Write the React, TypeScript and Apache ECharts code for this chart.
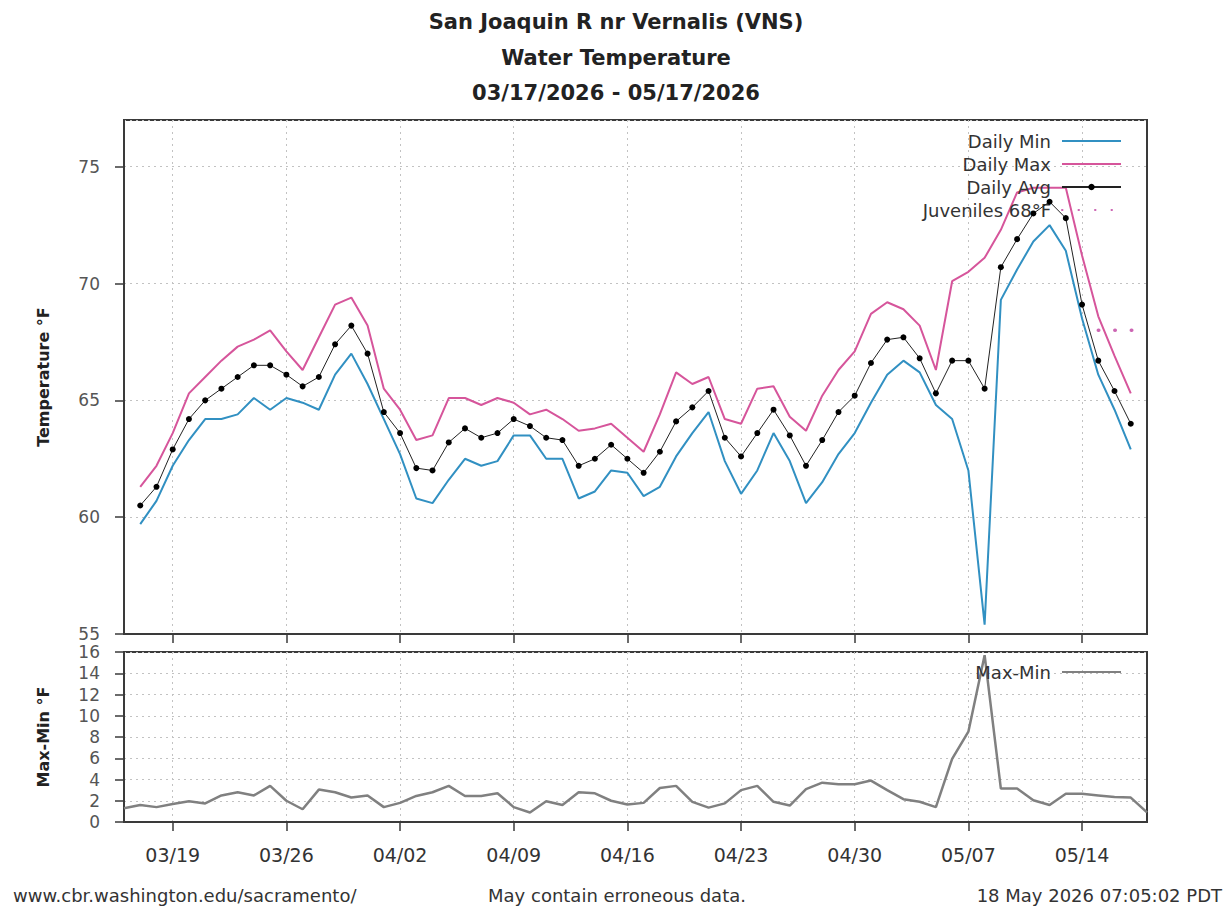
import React, { useEffect, useRef } from "react";
import * as echarts from "echarts";

// ---- data ----
const dates = [
  "03/17","03/18","03/19","03/20","03/21","03/22","03/23","03/24","03/25","03/26",
  "03/27","03/28","03/29","03/30","03/31","04/01","04/02","04/03","04/04","04/05",
  "04/06","04/07","04/08","04/09","04/10","04/11","04/12","04/13","04/14","04/15",
  "04/16","04/17","04/18","04/19","04/20","04/21","04/22","04/23","04/24","04/25",
  "04/26","04/27","04/28","04/29","04/30","05/01","05/02","05/03","05/04","05/05",
  "05/06","05/07","05/08","05/09","05/10","05/11","05/12","05/13","05/14","05/15",
  "05/16","05/17",
];
const dailyMin = [
  59.7, 60.7, 62.2, 63.3, 64.2, 64.2, 64.4, 65.1, 64.6, 65.1,
  64.9, 64.6, 66.1, 67.0, 65.7, 64.2, 62.7, 60.8, 60.6, 61.6,
  62.5, 62.2, 62.4, 63.5, 63.5, 62.5, 62.5, 60.8, 61.1, 62.0,
  61.9, 60.9, 61.3, 62.6, 63.6, 64.5, 62.4, 61.0, 62.0, 63.6,
  62.4, 60.6, 61.5, 62.7, 63.6, 64.9, 66.1, 66.7, 66.2, 64.8,
  64.2, 62.0, 55.4, 69.3, 70.6, 71.8, 72.5, 71.4, 68.5, 66.1,
  64.6, 62.9,
];
const dailyMax = [
  61.3, 62.2, 63.6, 65.3, 66.0, 66.7, 67.3, 67.6, 68.0, 67.1,
  66.3, 67.7, 69.1, 69.4, 68.2, 65.5, 64.6, 63.3, 63.5, 65.1,
  65.1, 64.8, 65.1, 64.9, 64.4, 64.6, 64.2, 63.7, 63.8, 64.0,
  63.4, 62.8, 64.4, 66.2, 65.7, 66.0, 64.2, 64.0, 65.5, 65.6,
  64.3, 63.7, 65.2, 66.3, 67.1, 68.7, 69.2, 68.9, 68.2, 66.3,
  70.1, 70.5, 71.1, 72.3, 73.9, 74.1, 74.1, 74.1, 71.2, 68.6,
  66.9, 65.3,
];
const dailyAvg = [
  60.5, 61.3, 62.9, 64.2, 65.0, 65.5, 66.0, 66.5, 66.5, 66.1,
  65.6, 66.0, 67.4, 68.2, 67.0, 64.5, 63.6, 62.1, 62.0, 63.2,
  63.8, 63.4, 63.6, 64.2, 63.9, 63.4, 63.3, 62.2, 62.5, 63.1,
  62.5, 61.9, 62.8, 64.1, 64.7, 65.4, 63.4, 62.6, 63.6, 64.6,
  63.5, 62.2, 63.3, 64.5, 65.2, 66.6, 67.6, 67.7, 66.8, 65.3,
  66.7, 66.7, 65.5, 70.7, 71.9, 73.0, 73.5, 72.8, 69.1, 66.7,
  65.4, 64.0,
];
const rangeDates = ["03/16", ...dates, "05/18"];
const maxMinRange = [
  1.3, 1.6, 1.4, 1.7, 1.95, 1.75, 2.5, 2.8, 2.5, 3.4,
  2.0, 1.2, 3.05, 2.8, 2.3, 2.5, 1.4, 1.8, 2.45, 2.8,
  3.4, 2.45, 2.45, 2.7, 1.4, 0.9, 1.95, 1.6, 2.8, 2.7,
  2.0, 1.65, 1.8, 3.2, 3.4, 1.9, 1.35, 1.75, 3.0, 3.4,
  1.9, 1.55, 3.1, 3.7, 3.55, 3.55, 3.9, 3.0, 2.15, 1.9,
  1.4, 5.95, 8.5, 15.7, 3.15, 3.15, 2.05, 1.6, 2.65, 2.65,
  2.5, 2.35, 2.3, 0.9,
];
const juvenileDates = ["05/15", "05/18"];
const juvenileThreshold = 68;
const tickDates = ["03/19", "03/26", "04/02", "04/09", "04/16", "04/23", "04/30", "05/07", "05/14"];
const axisStart = "03/16";
const axisEnd = "05/18";

// ---- helpers ----
const dayIndex = (s: string) => {
  const [m, d] = s.split("/").map(Number);
  const [m0, d0] = axisStart.split("/").map(Number);
  return Math.round((Date.UTC(2026, m - 1, d) - Date.UTC(2026, m0 - 1, d0)) / 86400000);
};
const tickValues = tickDates.map(dayIndex);
const tickLabel = (v: number) => {
  const i = tickValues.indexOf(Math.round(v));
  return i >= 0 ? tickDates[i] : "";
};

const FONT = "'DejaVu Sans', sans-serif";
const BLUE = "#3190c2";
const PINK = "#d6559b";
const JUV = "#cc66b3";
const FRAME = "#3a3a3a";
const GRIDC = "#c2c2c2";
const RANGE = "#808080";

export default function App() {
  const ref = useRef<HTMLDivElement>(null);
  useEffect(() => {
    if (!ref.current) return;
    const chart = echarts.init(ref.current, undefined, { renderer: "svg" });
    const xCommon = (gridIndex: number, showLabel: boolean) => ({
      type: "value",
      gridIndex,
      min: dayIndex(axisStart),
      max: dayIndex(axisEnd),
      axisLine: { show: true, lineStyle: { color: FRAME, width: 2 } },
      axisTick: { show: true, customValues: tickValues, length: 9, inside: false, lineStyle: { color: FRAME, width: 1.5 } },
      axisLabel: {
        show: showLabel,
        customValues: tickValues,
        formatter: tickLabel,
        margin: 23,
        fontSize: 19,
        color: "#333",
        fontFamily: FONT,
      },
      splitLine: { show: true, lineStyle: { color: GRIDC, type: [2, 4], width: 1 } },
    });
    const yName = { fontFamily: FONT, fontWeight: "bold", fontSize: 16, color: "#222" };
    const yLabel = { margin: 24, fontSize: 17, color: "#555", fontFamily: FONT };
    const hideSym = { opacity: 0 };
    const option: any = {
      animation: false,
      backgroundColor: "#fff",
      grid: [
        { left: 124, top: 120, width: 1023, height: 514, show: true, borderColor: FRAME, borderWidth: 2, backgroundColor: "transparent" },
        { left: 124, top: 652, width: 1023, height: 170, show: true, borderColor: FRAME, borderWidth: 2, backgroundColor: "transparent" },
      ],
      xAxis: [xCommon(0, false), xCommon(1, true)],
      yAxis: [
        {
          type: "value",
          gridIndex: 0,
          min: 55,
          max: 77,
          interval: 5,
          name: "Temperature °F",
          nameLocation: "middle",
          nameGap: 73,
          nameTextStyle: yName,
          axisLine: { show: true, lineStyle: { color: FRAME, width: 2 } },
          axisTick: { show: true, length: 9, lineStyle: { color: FRAME, width: 1.5 } },
          axisLabel: { ...yLabel, showMaxLabel: false },
          splitLine: { show: true, lineStyle: { color: GRIDC, type: [2, 4], width: 1 } },
        },
        {
          type: "value",
          gridIndex: 1,
          min: 0,
          max: 16,
          interval: 2,
          name: "Max-Min °F",
          nameLocation: "middle",
          nameGap: 73,
          nameTextStyle: yName,
          axisLine: { show: true, lineStyle: { color: FRAME, width: 2 } },
          axisTick: { show: true, length: 9, lineStyle: { color: FRAME, width: 1.5 } },
          axisLabel: yLabel,
          splitLine: { show: true, lineStyle: { color: GRIDC, type: [2, 4], width: 1 } },
        },
      ],
      legend: [
        {
          data: [
            { name: "Daily Min", itemStyle: hideSym },
            { name: "Daily Max", itemStyle: hideSym },
            { name: "Daily Avg" },
            { name: "Juveniles 68°F", itemStyle: hideSym },
          ],
          orient: "vertical",
          right: 105,
          top: 132,
          padding: 0,
          align: "right",
          itemWidth: 59,
          itemHeight: 8,
          itemGap: 5,
          textStyle: { fontSize: 18, color: "#333", fontFamily: FONT, padding: [0, 6, 0, 0] },
        },
        {
          data: [{ name: "Max-Min", itemStyle: hideSym }],
          orient: "vertical",
          right: 105,
          top: 663,
          padding: 0,
          align: "right",
          itemWidth: 59,
          itemHeight: 8,
          textStyle: { fontSize: 18, color: "#333", fontFamily: FONT, padding: [0, 6, 0, 0] },
        },
      ],
      series: [
        {
          name: "Daily Min",
          type: "line",
          xAxisIndex: 0,
          yAxisIndex: 0,
          data: dates.map((d, i) => [dayIndex(d), dailyMin[i]]),
          symbol: "none",
          color: BLUE,
          lineStyle: { color: BLUE, width: 2 },
        },
        {
          name: "Daily Max",
          type: "line",
          xAxisIndex: 0,
          yAxisIndex: 0,
          data: dates.map((d, i) => [dayIndex(d), dailyMax[i]]),
          symbol: "none",
          color: PINK,
          lineStyle: { color: PINK, width: 2 },
        },
        {
          name: "Daily Avg",
          type: "line",
          xAxisIndex: 0,
          yAxisIndex: 0,
          data: dates.map((d, i) => [dayIndex(d), dailyAvg[i]]),
          symbol: "circle",
          symbolSize: 6,
          color: "#000",
          itemStyle: { color: "#000" },
          lineStyle: { color: "#222", width: 1 },
          z: 5,
        },
        {
          name: "Juveniles 68°F",
          type: "line",
          xAxisIndex: 0,
          yAxisIndex: 0,
          data: juvenileDates.map((d) => [dayIndex(d), juvenileThreshold]),
          symbol: "none",
          color: JUV,
          lineStyle: { color: JUV, width: 3.5, type: [0.5, 16], cap: "round" },
        },
        {
          name: "Max-Min",
          type: "line",
          xAxisIndex: 1,
          yAxisIndex: 1,
          data: rangeDates.map((d, i) => [dayIndex(d), maxMinRange[i]]),
          symbol: "none",
          color: RANGE,
          lineStyle: { color: RANGE, width: 2.5 },
        },
      ],
      graphic: [
        { type: "text", x: 616, y: 22, style: { text: "San Joaquin R nr Vernalis (VNS)", fontFamily: FONT, fontWeight: "bold", fontSize: 21, fill: "#222", align: "center", verticalAlign: "middle" } },
        { type: "text", x: 616, y: 58, style: { text: "Water Temperature", fontFamily: FONT, fontWeight: "bold", fontSize: 21, fill: "#222", align: "center", verticalAlign: "middle" } },
        { type: "text", x: 616, y: 93, style: { text: "03/17/2026 - 05/17/2026", fontFamily: FONT, fontWeight: "bold", fontSize: 21, fill: "#222", align: "center", verticalAlign: "middle" } },
        { type: "text", x: 13, y: 895, style: { text: "www.cbr.washington.edu/sacramento/", fontFamily: FONT, fontSize: 18, fill: "#333", align: "left", verticalAlign: "middle" } },
        { type: "text", x: 617, y: 895, style: { text: "May contain erroneous data.", fontFamily: FONT, fontSize: 18, fill: "#333", align: "center", verticalAlign: "middle" } },
        { type: "text", x: 1222, y: 895, style: { text: "18 May 2026 07:05:02 PDT", fontFamily: FONT, fontSize: 18, fill: "#333", align: "right", verticalAlign: "middle" } },
      ],
    };
    chart.setOption(option);
    return () => chart.dispose();
  }, []);
  return <div ref={ref} style={{ position: "absolute", left: 0, top: 0, width: 1227, height: 907 }} />;
}
